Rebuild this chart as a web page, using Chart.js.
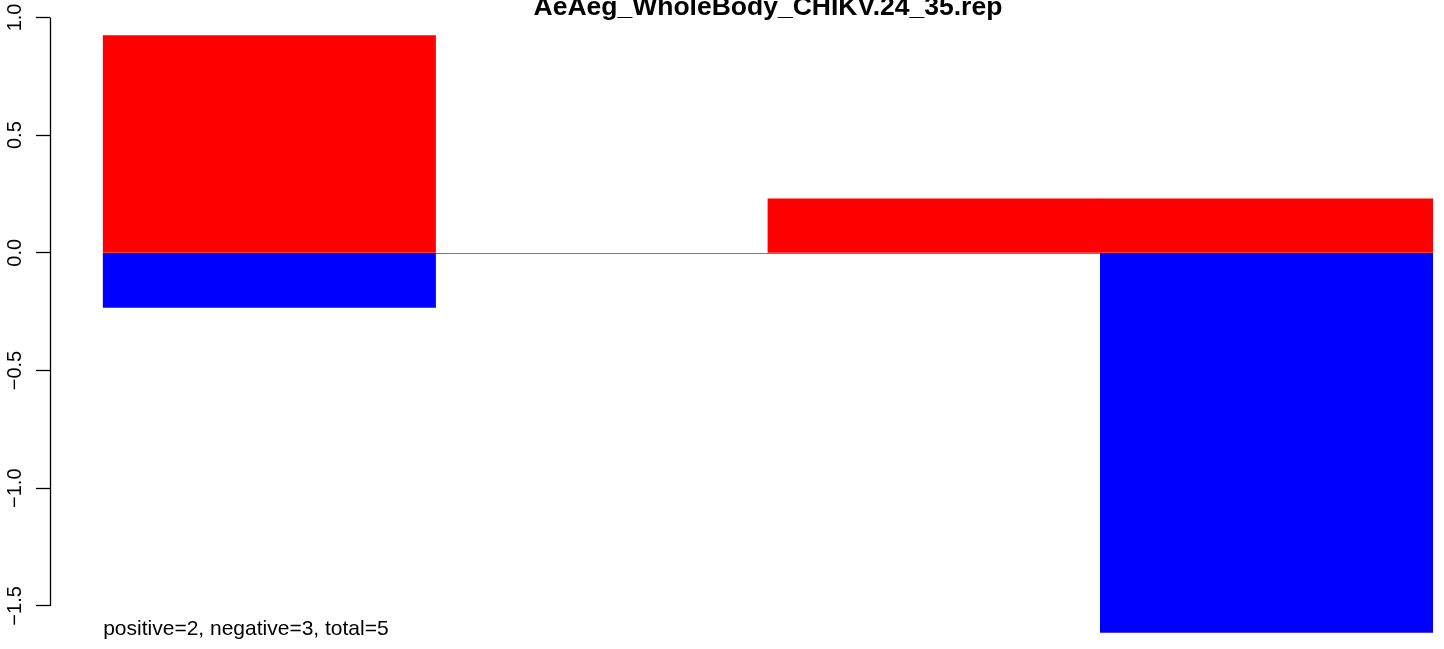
<!doctype html>
<html lang="en">
<head>
<meta charset="utf-8">
<title>AeAeg_WholeBody_CHIKV.24_35.rep</title>
<script src="https://cdn.jsdelivr.net/npm/chart.js@4/dist/chart.umd.min.js"></script>
<style>
  html, body { margin: 0; padding: 0; background: #fff; }
  #wrap { width: 1444px; height: 649px; position: relative; }
</style>
</head>
<body>
<div id="wrap"><canvas id="rep_plot"></canvas></div>

<script>
    // values
    var title = "AeAeg_WholeBody_CHIKV.24_35.rep";
    var note = "positive=2, negative=3, total=5";
    var categories = ["1", "2", "3", "4"];
    var positive = [0.923, 0, 0.229, 0.229];
    var negative = [-0.232, 0, 0, -1.613];
    var yTicks = [1.0, 0.5, 0.0, -0.5, -1.0, -1.5];

    // R-ish plot range
    var xMin = -0.16, xMax = 4.034;
    var yMin = -1.683, yMax = 1.074;

    // zero-height bars are left out
    function points(vals) {
        return categories.map((c, i) => ({x: i + 0.5, y: vals[i] === 0 ? null : vals[i]}));
    }

    function fmt(v) {
        var s = Math.abs(v).toFixed(1);
        return v < 0 ? "\u2212" + s : s;
    }

    var font = "'Liberation Sans', Arial, Helvetica, sans-serif";

    // zero line under the bars, title, note and the short R style axis line
    var rBits = {
        id: "rBits",
        beforeDatasetsDraw(chart) {
            var ctx = chart.ctx;
            var xs = chart.scales.x, ys = chart.scales.y;
            var y0 = Math.round(ys.getPixelForValue(0)) + 0.5;
            ctx.save();
            ctx.strokeStyle = "#7a7a7a";
            ctx.lineWidth = 1.2;
            ctx.beginPath();
            ctx.moveTo(xs.getPixelForValue(0), y0);
            ctx.lineTo(xs.getPixelForValue(categories.length), y0);
            ctx.stroke();
            ctx.restore();
        },
        afterDraw(chart) {
            var ctx = chart.ctx;
            var xs = chart.scales.x, ys = chart.scales.y;
            ctx.save();
            ctx.strokeStyle = "#000";
            ctx.lineWidth = 1.3;
            ctx.beginPath();
            ctx.moveTo(ys.right + 0.5, ys.getPixelForValue(yTicks[0]));
            ctx.lineTo(ys.right + 0.5, ys.getPixelForValue(yTicks[yTicks.length - 1]));
            ctx.stroke();

            ctx.fillStyle = "#000";
            ctx.textAlign = "center";
            ctx.textBaseline = "alphabetic";
            ctx.font = "bold 26.5px " + font;
            ctx.fillText(title, xs.getPixelForValue(2), 14.5);

            ctx.textAlign = "left";
            ctx.font = "21px " + font;
            ctx.fillText(note, xs.getPixelForValue(0), 635);
            ctx.restore();
        }
    };

    new Chart("rep_plot", {
        type: "bar",
        data: {
            datasets: [
                {label: "positive", data: points(positive), backgroundColor: "#ff0000",
                 borderWidth: 0, barPercentage: 1, categoryPercentage: 1},
                {label: "negative", data: points(negative), backgroundColor: "#0000ff",
                 borderWidth: 0, barPercentage: 1, categoryPercentage: 1}
            ]
        },
        options: {
            animation: false,
            responsive: true,
            maintainAspectRatio: false,
            layout: {padding: 0},
            plugins: {legend: {display: false}, tooltip: {enabled: false}, title: {display: false}},
            scales: {
                x: {
                    type: "linear", stacked: true, display: false,
                    offset: false, grid: {offset: false},
                    min: xMin, max: xMax,
                    afterBuildTicks: s => { s.ticks = categories.map((c, i) => ({value: i + 0.5})); }
                },
                y: {
                    stacked: true, min: yMin, max: yMax,
                    afterBuildTicks: s => { s.ticks = yTicks.map(v => ({value: v})); },
                    afterFit: s => { s.width = 50; s.paddingTop = 0; s.paddingBottom = 0; },
                    border: {display: false},
                    grid: {
                        color: "rgba(0,0,0,0)",
                        tickColor: "#000",
                        tickLength: 14,
                        tickWidth: 1.3
                    },
                    ticks: {
                        minRotation: 90, maxRotation: 90,
                        crossAlign: "center", padding: 1,
                        color: "#000",
                        font: {family: font, size: 20},
                        callback: v => fmt(v)
                    }
                }
            }
        },
        plugins: [rBits]
    });
</script>
</body>
</html>
